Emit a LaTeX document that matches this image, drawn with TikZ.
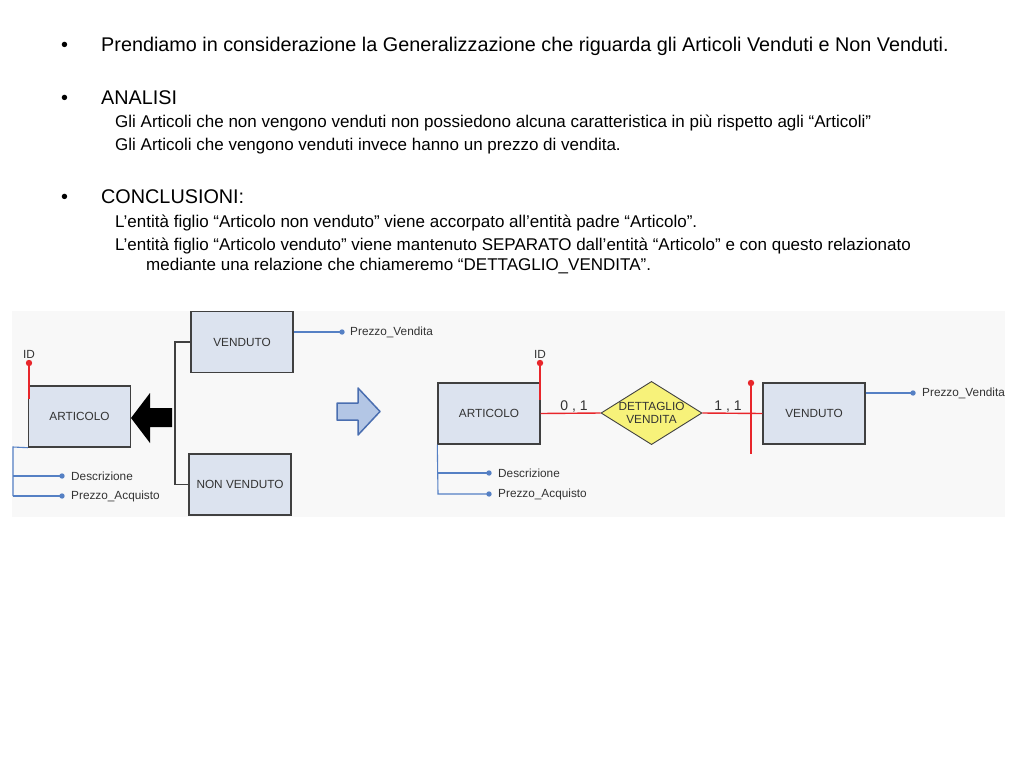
\documentclass[tikz,border=0pt]{standalone}
\usepackage{fontspec}
\setmainfont{Liberation Sans}
\usetikzlibrary{shapes.geometric}
\definecolor{entfill}{HTML}{DCE3EF}
\definecolor{entline}{HTML}{404040}
\definecolor{attrblue}{HTML}{5580C4}
\definecolor{relred}{HTML}{E8262B}
\definecolor{relyellow}{HTML}{F7F27A}
\definecolor{arrfill}{HTML}{B3C6E5}
\definecolor{arrline}{HTML}{4A6EB0}
\definecolor{bgpanel}{HTML}{F8F8F8}
\begin{document}
\begin{tikzpicture}[x=1pt,y=-1pt, every node/.style={font=\fontsize{11.8}{13}\selectfont,inner sep=0pt,text=black!80}]
  \tikzstyle{entity}=[draw=entline,fill=entfill,line width=1.4pt,minimum width=102pt,minimum height=61pt]
  \tikzstyle{relation}=[diamond,draw=entline,fill=relyellow,line width=0.9pt,minimum width=101pt,minimum height=60pt,inner sep=-6pt,align=center,font=\fontsize{11.8}{13}\selectfont]
  \tikzstyle{attr}=[draw=attrblue,line width=1.1pt]
  \tikzstyle{key}=[draw=relred,line width=1.4pt]
  \tikzstyle{bull}=[anchor=base west,text=black,font=\fontsize{19.8}{24}\selectfont]
  \tikzstyle{sub}=[anchor=base west,text=black,font=\fontsize{17}{20}\selectfont]
  \useasboundingbox[fill=white] (0,0) rectangle (1024,768);

  % testo
  \node[bull] (b1) at (61,52) {•};
  \node[bull] (t1) at (101,52) {Prendiamo in considerazione la Generalizzazione che riguarda gli Articoli Venduti e Non Venduti.};
  \node[bull] (b2) at (61,104) {•};
  \node[bull] (t2) at (101,104) {ANALISI};
  \node[sub] (t2a) at (115,127) {Gli Articoli che non vengono venduti non possiedono alcuna caratteristica in più rispetto agli “Articoli”};
  \node[sub] (t2b) at (115,150) {Gli Articoli che vengono venduti invece hanno un prezzo di vendita.};
  \node[bull] (b3) at (61,203) {•};
  \node[bull] (t3) at (101,203) {CONCLUSIONI:};
  \node[sub] (t3a) at (115,227) {L’entità figlio “Articolo non venduto” viene accorpato all’entità padre “Articolo”.};
  \node[sub] (t3b) at (115,250) {L’entità figlio “Articolo venduto” viene mantenuto SEPARATO dall’entità “Articolo” e con questo relazionato};
  \node[sub] (t3c) at (146,270) {mediante una relazione che chiameremo “DETTAGLIO\_VENDITA”.};

  \fill[bgpanel] (12,311) rectangle (1005,517);

  % schema di partenza (generalizzazione)
  \node[entity] (art1) at (79.5,416.5) {ARTICOLO};
  \node[entity] (ven1) at (242,342) {VENDUTO};
  \node[entity] (non1) at (240,484.5) {NON VENDUTO};
  \coordinate (gen) at (175,413);
  \draw[entline,line width=1.4pt] (ven1.west) -| (gen) |- (non1.west);
  \fill[black] (131,418) -- (150,393) -- (150,408) -- (172,408) -- (172,427) -- (150,427) -- (150,443) -- cycle;
  \coordinate (id1) at (29,363);
  \draw[key] (id1) -- (29,399);
  \fill[relred] (id1) circle (3.2);
  \node[anchor=south] (id1l) at (29,359) {ID};
  \draw[attr] (art1.south west) -- (13,447) -- (13,496);
  \coordinate (d1) at (62,476);
  \coordinate (p1) at (62,496);
  \draw[attr] (13,476) -- (d1);
  \draw[attr] (13,496) -- (p1);
  \fill[attrblue] (d1) circle (2.7) (p1) circle (2.7);
  \node[anchor=west] (d1l) at (71,476) {Descrizione};
  \node[anchor=west] (p1l) at (71,496) {Prezzo\_Acquisto};
  \coordinate (pv1) at (342,332);
  \draw[attr] (ven1.east |- pv1) -- (pv1);
  \fill[attrblue] (pv1) circle (2.7);
  \node[anchor=west] (pv1l) at (350,332) {Prezzo\_Vendita};

  % freccia di trasformazione
  \draw[arrline,fill=arrfill,line width=1.5pt,line join=round] (337,403) -- (358,403) -- (358,388) -- (380,411.5) -- (358,435) -- (358,420) -- (337,420) -- cycle;

  % schema ristrutturato
  \node[entity] (art2) at (489,413.5) {ARTICOLO};
  \node[relation] (dv) at (651.5,413) {DETTAGLIO\\VENDITA};
  \node[entity] (ven2) at (814,413.5) {VENDUTO};
  \draw[key] (art2.east) -- (dv.west);
  \draw[key] (dv.east) -- (ven2.west);
  \node[anchor=base,font=\fontsize{14}{16}\selectfont] (c01) at (574,410) {0 , 1};
  \node[anchor=base,font=\fontsize{14}{16}\selectfont] (c11) at (728,410) {1 , 1};
  \coordinate (idx) at (751,383);
  \draw[key] (idx) -- (751,454);
  \fill[relred] (idx) circle (3.2);
  \coordinate (id2) at (540,363);
  \draw[key] (id2) -- (540,400);
  \fill[relred] (id2) circle (3.2);
  \node[anchor=south] (id2l) at (540,359) {ID};
  \coordinate (d2) at (489,473);
  \coordinate (p2) at (489,494);
  \draw[attr] (art2.south west) -- (438,494) -- (p2);
  \draw[attr] (438,473) -- (d2);
  \fill[attrblue] (d2) circle (2.7) (p2) circle (2.7);
  \node[anchor=west] (d2l) at (498,473) {Descrizione};
  \node[anchor=west] (p2l) at (498,494) {Prezzo\_Acquisto};
  \coordinate (pv2) at (913,393);
  \draw[attr] (ven2.east |- pv2) -- (pv2);
  \fill[attrblue] (pv2) circle (2.7);
  \node[anchor=west] (pv2l) at (922,393) {Prezzo\_Vendita};
\end{tikzpicture}
\end{document}
